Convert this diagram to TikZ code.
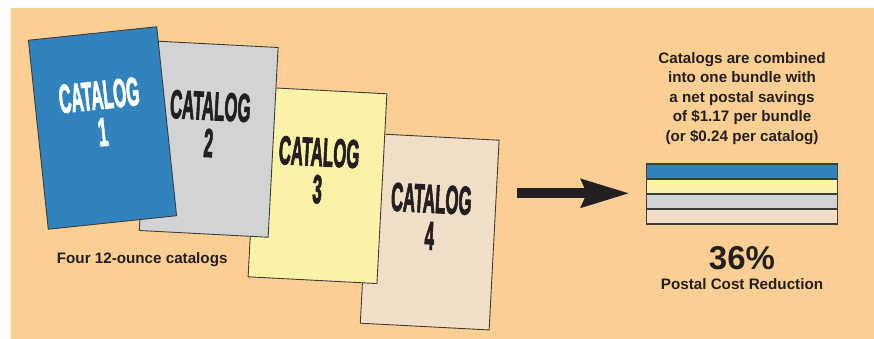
\documentclass[tikz,border=0pt]{standalone}
\usepackage{fontspec}
\usepackage{xcolor}
\usepackage{graphicx}
\setmainfont{Liberation Sans}
\newfontfamily\catfont{Liberation Sans Bold}[FakeBold=3]
\usetikzlibrary{arrows.meta, positioning, calc}

\definecolor{bgorange}{RGB}{251,207,148}
\definecolor{catblue}{RGB}{50,130,190}
\definecolor{catgray}{RGB}{209,211,212}
\definecolor{catyellow}{RGB}{250,242,166}
\definecolor{catbeige}{RGB}{240,222,199}
\definecolor{inkdark}{RGB}{35,31,32}
\definecolor{edgegray}{RGB}{60,60,60}

\newcommand{\narrow}[1]{\scalebox{0.42}[1]{#1}}

\begin{document}
\begin{tikzpicture}[x=1pt, y=-1pt]
    % Node Styles
    \tikzstyle{catalog} = [rectangle, draw=edgegray, line width=0.9pt, minimum width=129pt, minimum height=190pt, inner sep=0pt]
    \tikzstyle{catlabel} = [align=center, inner sep=0pt, font=\catfont\fontsize{40}{37}\selectfont]
    \tikzstyle{stripe} = [rectangle, draw=edgegray, line width=1.2pt, minimum width=190.6pt, minimum height=15pt, inner sep=0pt, outer sep=0pt]
    \tikzstyle{note} = [align=center, inner sep=0pt, text=inkdark, font=\fontsize{15.2}{19.6}\selectfont\bfseries]
    \tikzstyle{bigarrow} = [draw=inkdark, line width=10pt, -{Stealth[length=48pt, width=27pt, inset=5pt]}]

    \useasboundingbox (0,0) rectangle (874,339);
    \fill[bgorange] (11,8) rectangle (874,339);

    % Catalogs, back to front
    \foreach \n/\x/\y/\r/\fillcol/\txtcol in {4/429.7/231.7/-3/catbeige/inkdark, 3/317.5/185.3/-3/catyellow/inkdark, 2/208.7/139/-3/catgray/inkdark, 1/102.5/128/6/catblue/white} {
        \node [catalog, fill=\fillcol, rotate=\r] (cat\n) at (\x,\y) {};
        \node [catlabel, rotate=\r, text=\txtcol] (label\n) at ($(cat\n.center)!0.153!(cat\n.north)$) {\narrow{CATALOG}\\\narrow{\n}};
    }
    \node [note] (four) at (142.2,260) {Four 12-ounce catalogs};

    % Bundle
    \node [stripe, fill=catblue] (s1) at (742,171.5) {};
    \node [stripe, fill=catyellow, below=0pt of s1] (s2) {};
    \node [stripe, fill=catgray, below=0pt of s2] (s3) {};
    \node [stripe, fill=catbeige, below=0pt of s3] (s4) {};

    % Texts
    \node [note, anchor=south, above=19pt of s1] (savings) {Catalogs are combined\\into one bundle with\\a net postal savings\\of \$1.17 per bundle\\(or \$0.24 per catalog)};
    \node [note, below=22.5pt of s4, font=\fontsize{33}{36}\selectfont\bfseries] (pct) {36\%};
    \node [note, below=8pt of pct] (reduction) {Postal Cost Reduction};

    % Arrow
    \coordinate (tail) at (517,193.3);
    \draw [bigarrow, shorten >=16.7pt] (tail) -- (tail -| s1.west);
\end{tikzpicture}
\end{document}
